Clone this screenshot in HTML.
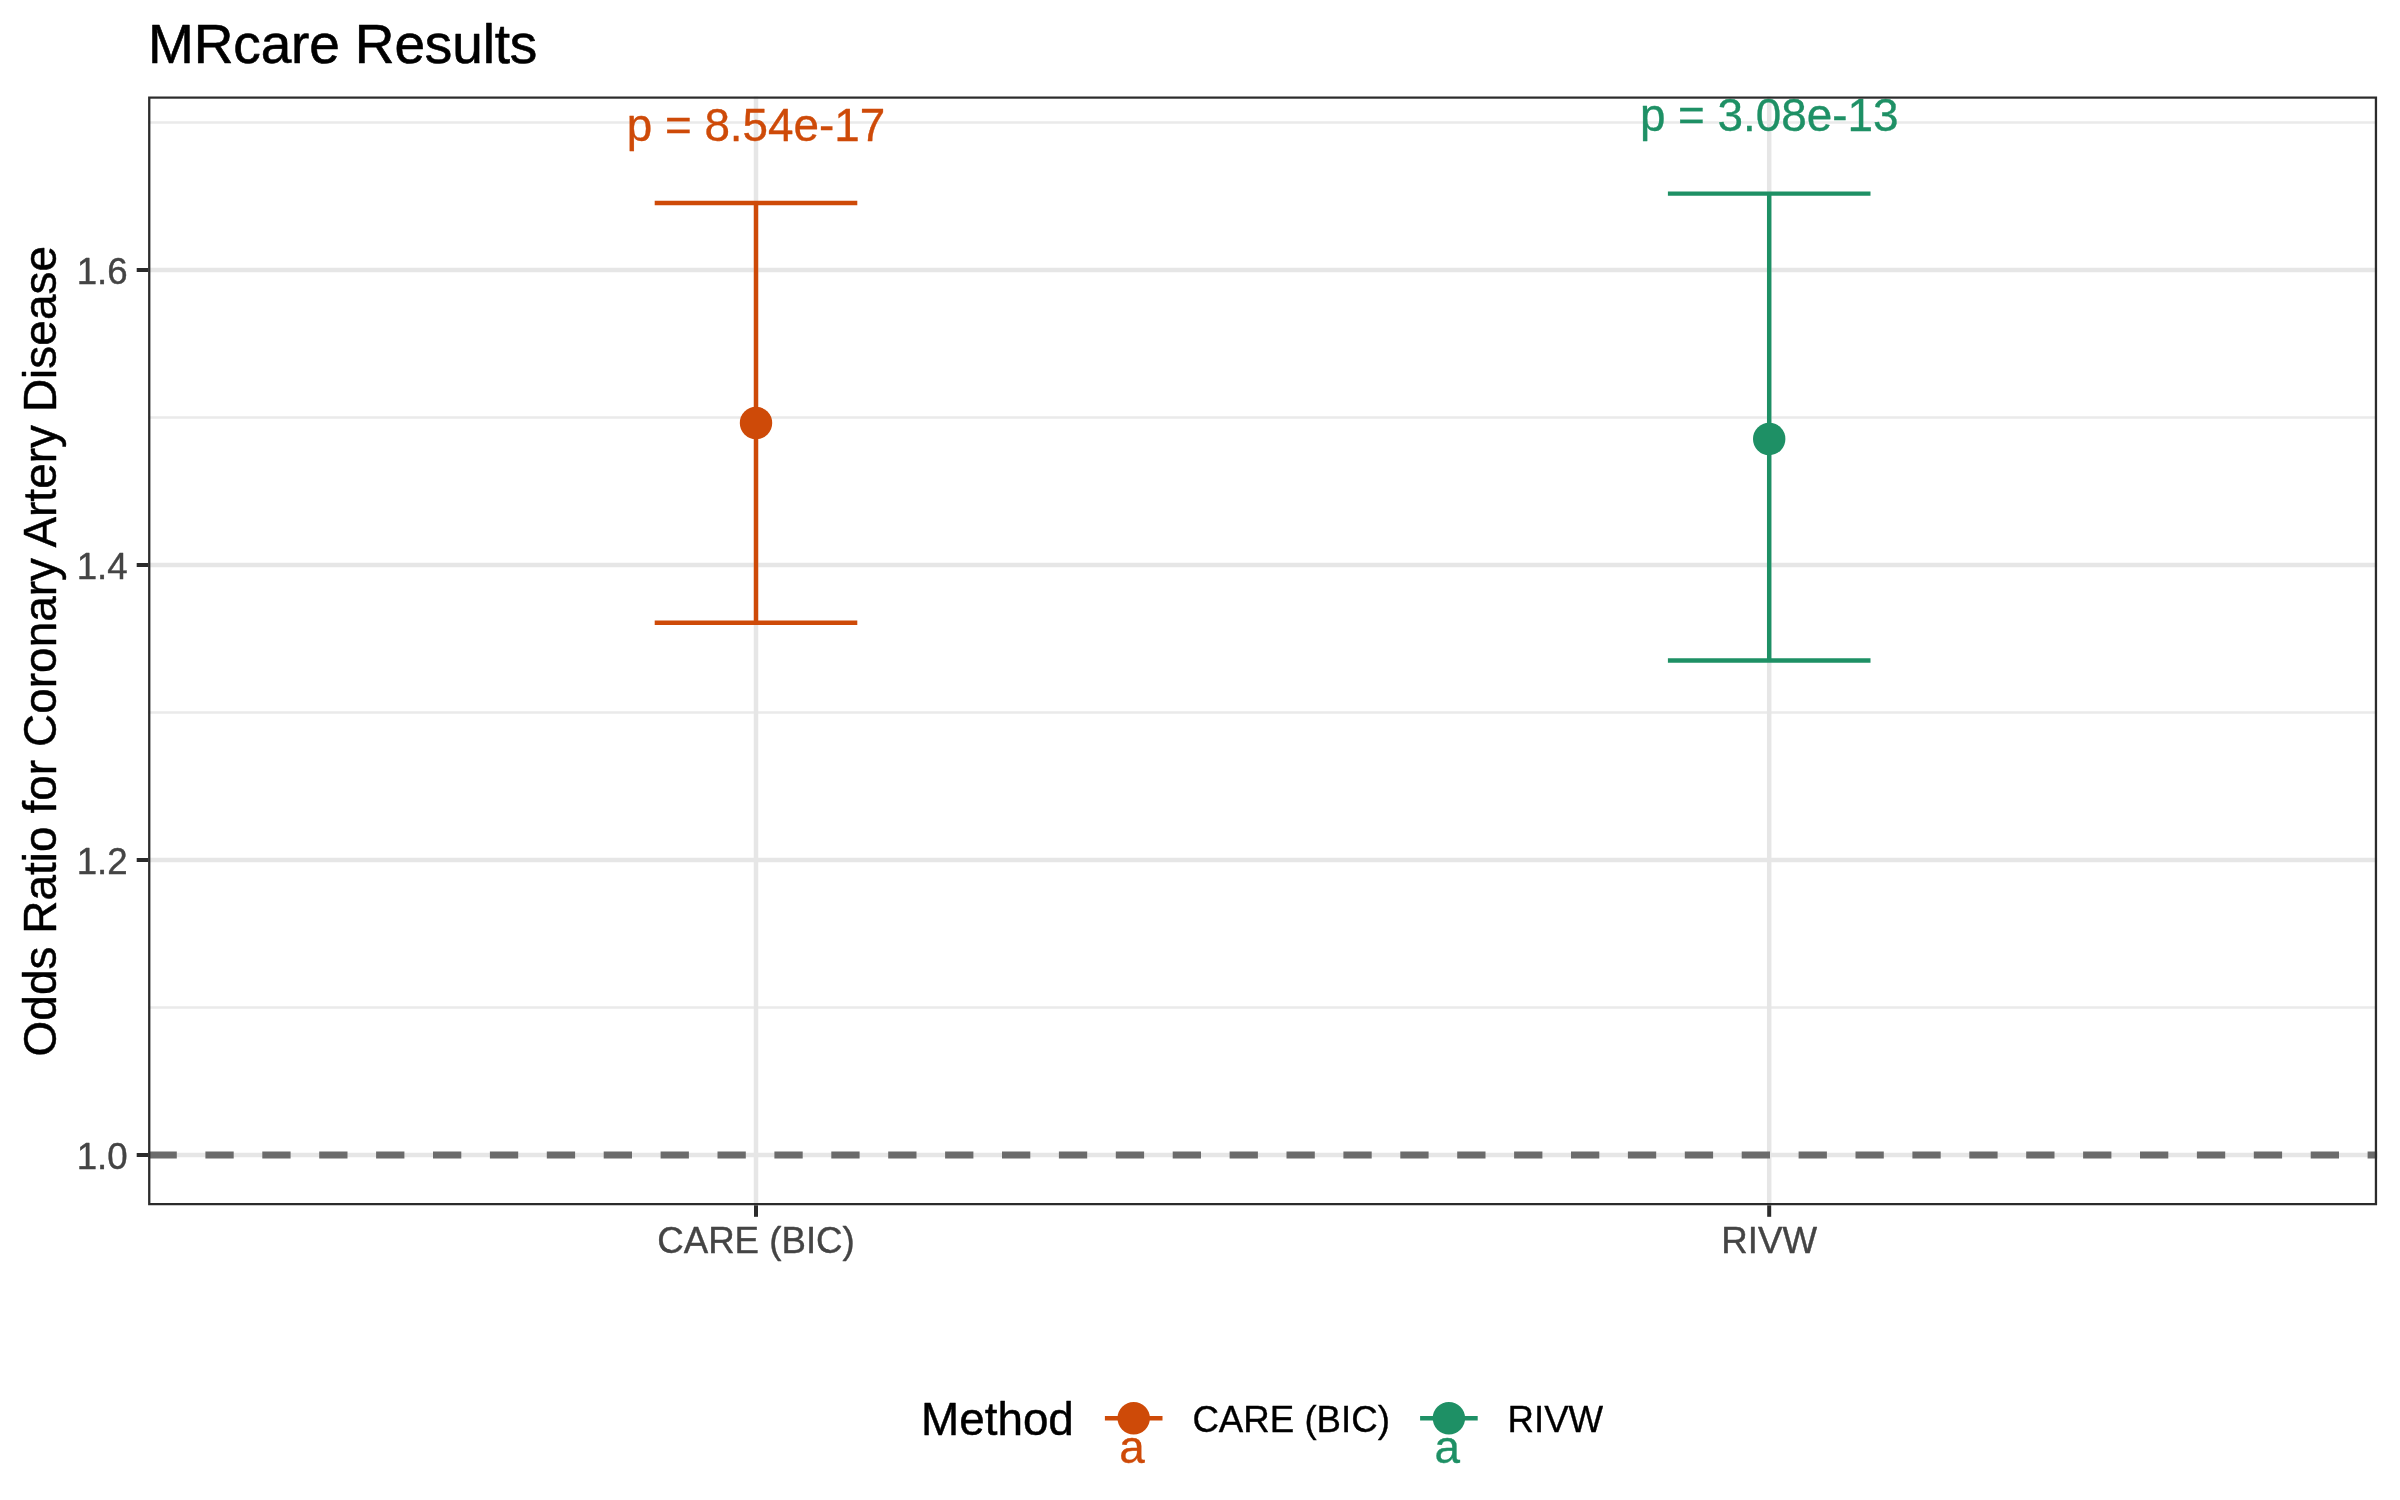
<!DOCTYPE html>
<html>
<head>
<meta charset="utf-8">
<title>MRcare Results</title>
<style>
  html, body { margin: 0; padding: 0; background: #ffffff; }
  body { width: 2400px; height: 1500px; overflow: hidden; }
  svg { display: block; will-change: transform; }
  text { font-family: "Liberation Sans", sans-serif; }

  text { stroke-linejoin: round; paint-order: stroke fill; }
  .t55 { stroke: #000000; stroke-width: 0.6px; }
  .t46k { stroke: #000000; stroke-width: 0.45px; }
  .t46o { stroke: #CE4A08; stroke-width: 0.35px; }
  .t46g { stroke: #1E9065; stroke-width: 0.35px; }
  .t37a { stroke: #444444; stroke-width: 0.4px; }
  .t37k { stroke: #000000; stroke-width: 0.35px; }
</style>
</head>
<body>
<svg width="2400" height="1500" viewBox="0 0 2400 1500">
  <rect x="0" y="0" width="2400" height="1500" fill="#ffffff"/>

  <defs>
    <clipPath id="panel">
      <rect x="148.1" y="96.4" width="2229" height="1108.9"/>
    </clipPath>
  </defs>

  <!-- title -->
  <text class="t55" x="148.1" y="63.3" font-size="55" fill="#000000" letter-spacing="-0.15">MRcare Results</text>

  <!-- panel contents -->
  <g clip-path="url(#panel)">
    <!-- minor grid -->
    <g stroke="#eaeaea" stroke-width="2.3" fill="none">
      <line x1="148" x2="2378" y1="122.5" y2="122.5"/>
      <line x1="148" x2="2378" y1="417.5" y2="417.5"/>
      <line x1="148" x2="2378" y1="712.5" y2="712.5"/>
      <line x1="148" x2="2378" y1="1007.5" y2="1007.5"/>
    </g>
    <!-- major grid -->
    <g stroke="#e6e6e6" stroke-width="4.5" fill="none">
      <line x1="148" x2="2378" y1="270" y2="270"/>
      <line x1="148" x2="2378" y1="565" y2="565"/>
      <line x1="148" x2="2378" y1="860" y2="860"/>
      <line x1="148" x2="2378" y1="1155" y2="1155"/>
      <line x1="756" x2="756" y1="96" y2="1206"/>
      <line x1="1769.2" x2="1769.2" y1="96" y2="1206"/>
    </g>

    <!-- error bars: CARE -->
    <g stroke="#CE4A08" stroke-width="4.45" fill="none">
      <line x1="654.7" x2="857.3" y1="203" y2="203"/>
      <line x1="654.7" x2="857.3" y1="622.7" y2="622.7"/>
      <line x1="756" x2="756" y1="203" y2="622.7"/>
    </g>
    <!-- error bars: RIVW -->
    <g stroke="#1E9065" stroke-width="4.45" fill="none">
      <line x1="1667.9" x2="1870.5" y1="193.6" y2="193.6"/>
      <line x1="1667.9" x2="1870.5" y1="660.5" y2="660.5"/>
      <line x1="1769.2" x2="1769.2" y1="193.6" y2="660.5"/>
    </g>

    <!-- points -->
    <circle cx="756" cy="423" r="16.2" fill="#CE4A08"/>
    <circle cx="1769.2" cy="439" r="16.2" fill="#1E9065"/>

    <!-- dashed reference line -->
    <line x1="148.5" x2="2378" y1="1155" y2="1155" stroke="#6b6b6b" stroke-width="6.9" stroke-dasharray="28.3 28.6"/>

    <!-- p-value labels -->
    <text x="756" y="140.8" class="t46o" font-size="45.83" fill="#CE4A08" text-anchor="middle">p = 8.54e-17</text>
    <text x="1769.2" y="130.7" class="t46g" font-size="45.83" fill="#1E9065" text-anchor="middle">p = 3.08e-13</text>

    <!-- panel border (outer half clipped) -->
    <rect x="148.1" y="96.4" width="2229" height="1108.9" fill="none" stroke="#2b2b2b" stroke-width="4.6"/>
  </g>

  <!-- axis ticks -->
  <g stroke="#2b2b2b" stroke-width="4.0" fill="none">
    <line x1="136.7" x2="148.1" y1="270" y2="270"/>
    <line x1="136.7" x2="148.1" y1="565" y2="565"/>
    <line x1="136.7" x2="148.1" y1="860" y2="860"/>
    <line x1="136.7" x2="148.1" y1="1155" y2="1155"/>
    <line x1="756" x2="756" y1="1205.3" y2="1216.8"/>
    <line x1="1769.2" x2="1769.2" y1="1205.3" y2="1216.8"/>
  </g>

  <!-- y axis labels -->
  <g class="t37a" font-size="36.67" fill="#444444" text-anchor="end">
    <text x="127.6" y="284">1.6</text>
    <text x="127.6" y="579">1.4</text>
    <text x="127.6" y="874">1.2</text>
    <text x="127.6" y="1169">1.0</text>
  </g>

  <!-- x axis labels -->
  <g class="t37a" font-size="36.67" fill="#444444" text-anchor="middle">
    <text x="756" y="1252.8">CARE (BIC)</text>
    <text x="1769.2" y="1252.8">RIVW</text>
  </g>

  <!-- y axis title -->
  <text class="t46k" transform="translate(55.5,651.2) rotate(-90)" font-size="45.83" fill="#000000" text-anchor="middle" letter-spacing="0.08">Odds Ratio for Coronary Artery Disease</text>

  <!-- legend -->
  <text class="t46k" x="921" y="1434.8" font-size="45.83" fill="#000000">Method</text>

  <g>
    <line x1="1104.9" x2="1162.5" y1="1418.3" y2="1418.3" stroke="#CE4A08" stroke-width="4.45"/>
    <circle cx="1133.7" cy="1418.3" r="16.2" fill="#CE4A08"/>
    <text x="1132" y="1463.4" class="t46o" font-size="45.83" fill="#CE4A08" text-anchor="middle">a</text>
    <text x="1192.4" y="1432" class="t37k" font-size="36.67" fill="#000000">CARE (BIC)</text>
  </g>
  <g>
    <line x1="1420.1" x2="1477.7" y1="1418.3" y2="1418.3" stroke="#1E9065" stroke-width="4.45"/>
    <circle cx="1448.9" cy="1418.3" r="16.2" fill="#1E9065"/>
    <text x="1447.3" y="1463.4" class="t46g" font-size="45.83" fill="#1E9065" text-anchor="middle">a</text>
    <text x="1507.5" y="1432" class="t37k" font-size="36.67" fill="#000000">RIVW</text>
  </g>
</svg>
</body>
</html>
